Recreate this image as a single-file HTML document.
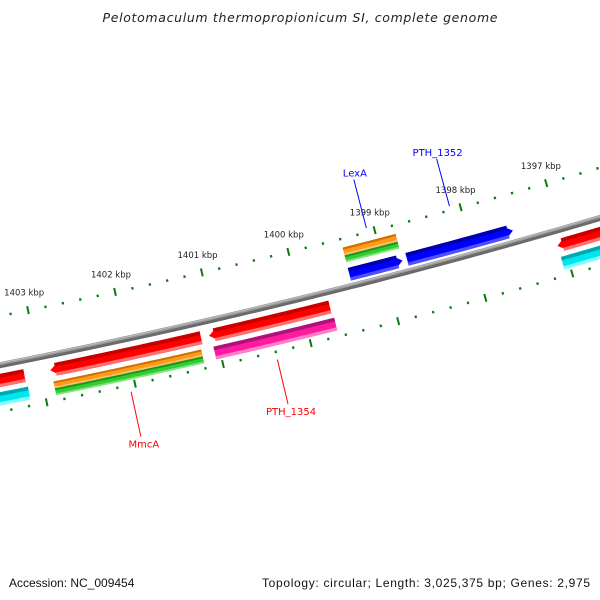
<!DOCTYPE html>
<html><head><meta charset="utf-8"><style>
html,body{margin:0;padding:0;background:#fff}
svg{display:block}
text{font-family:"DejaVu Sans","Liberation Sans",sans-serif}
</style></head><body>
<svg id="map" width="600" height="600" viewBox="0 0 600 600" xmlns="http://www.w3.org/2000/svg">
<rect width="600" height="600" fill="#fff"/>
<text x="300" y="22" text-anchor="middle" font-size="12.5" font-style="italic" fill="#222" textLength="395">Pelotomaculum thermopropionicum SI, complete genome</text>
<text x="9" y="587" font-size="12" fill="#111" style="font-family:'Liberation Sans',sans-serif">Accession: NC_009454</text>
<text x="590" y="587" font-size="12" fill="#111" text-anchor="end" style="font-family:'Liberation Sans',sans-serif" textLength="328">Topology: circular; Length: 3,025,375 bp; Genes: 2,975</text>
<g id="ticks"></g>
<g id="backbone"></g>
<g id="features"></g>
<g id="labels"></g>
</svg>
<script>
// data
const majorTickKbp = [1397, 1398, 1399, 1400, 1401, 1402, 1403];
const minorTickStepBp = 200;
const featNames = ['red-left','cyan-left','red-mmca','orange-mmca','green-mmca','red-pth1354','magenta-pth1354','orange-lexa','green-lexa','blue-lexa','blue-pth1352','red-right','cyan-right'];
const featStart = [1403700,1403700,1402890,1402880,1402880,1401080,1401060,1399397,1399397,1399397,1398731,1397073,1397070];
const featEnd   = [1403183,1403170,1401172,1401200,1401200,1399697,1399680,1398783,1398783,1398783,1397504,1396300,1396300];
const featArrow = [0,0,1,0,0,1,0,0,0,-1,-1,1,0];
const featSlot  = ['f1','f2','f1','f2a','f2b','f1','f2','r2a','r2b','r1','r1','f1','f2'];
const featColor = ['red','cyan','red','orange','green','red','magenta','orange','green','blue','blue','red','cyan'];
const labelNames = ['LexA','PTH_1352','MmcA','PTH_1354'];
const labelBp = [1399084, 1398117, 1402060, 1400402];
const labelColors = ['#0000ff','#0000ff','#ff0000','#ff0000'];

// geometry
const CX=-1295, CY=-6210, R0=6701;
const A0=78.53, DEG_PER_BP=0.000766;
const slots={f1:[6710,6723],f2:[6728,6741],f2a:[6728,6735],f2b:[6735,6742],r1:[6683,6696],r2a:[6662,6670],r2b:[6670,6677]};
const palette={red:['#c80000','#ff0000','#ff7070'],cyan:['#00a8b0','#00e5ee','#80ffff'],orange:['#d07000','#ff9a1a','#ffc070'],green:['#1a9a1a','#33cc33','#80e880'],magenta:['#b0107a','#ff1aa0','#ff80c8'],blue:['#0000b0','#0000ff','#5050ff']};
function ang(bp){return (A0+(bp-1403000)*DEG_PER_BP)*Math.PI/180;}
function pt(bp,r){const a=ang(bp);return [CX+r*Math.cos(a),CY+r*Math.sin(a)];}
function arcPts(b1,b2,r,n){const o=[];for(let i=0;i<=n;i++){o.push(pt(b1+(b2-b1)*i/n,r));}return o;}
function P(a){return a.map(p=>p[0].toFixed(2)+','+p[1].toFixed(2)).join(' ');}
const NS='http://www.w3.org/2000/svg';

// ticks
const tg=document.getElementById('ticks');
function tick(bp,r1,r2,w,name){
  const a=pt(bp,r1),b=pt(bp,r2);const l=document.createElementNS(NS,'line');
  l.setAttribute('x1',a[0]);l.setAttribute('y1',a[1]);l.setAttribute('x2',b[0]);l.setAttribute('y2',b[1]);
  l.setAttribute('stroke','#0a7a0a');l.setAttribute('stroke-width',w);
  
  
  tg.appendChild(l);
}
const lo=(majorTickKbp[0]-1)*1000, hi=(majorTickKbp[majorTickKbp.length-1]+1)*1000;
for(let bp=lo;bp<=hi;bp+=minorTickStepBp){
  if(bp%1000===0) continue;
  tick(bp,6652,6654.5,2.2,'minor-tick');
  tick(bp,6746,6748.5,2.2,'minor-tick');
}
majorTickKbp.forEach(k=>{
  const bp=k*1000;
  tick(bp,6649,6657,2,'major-tick');
  tick(bp,6743,6751,2,'major-tick');
  const p=pt(bp,6634);
  const t=document.createElementNS(NS,'text');
  t.setAttribute('x',p[0]);t.setAttribute('y',p[1]+4);t.setAttribute('text-anchor','middle');
  t.setAttribute('font-size','8.5');t.setAttribute('fill','#222');
  
  
  t.textContent=k+' kbp';tg.appendChild(t);
});

// backbone
const bb=document.getElementById('backbone');
[[6701.5,6,'#6a6a6a'],[6700,3,'#9a9a9a'],[6699.5,1,'#bdbdbd']].forEach(s=>{
  const pl=document.createElementNS(NS,'polyline');
  pl.setAttribute('points',P(arcPts(1404500,1395500,s[0],80)));
  pl.setAttribute('fill','none');pl.setAttribute('stroke',s[2]);pl.setAttribute('stroke-width',s[1]);
  
  
  bb.appendChild(pl);
});

// features
const fg=document.getElementById('features');
function shape(s,e,ri,ro,arrow){
  const head=95, n=24;
  let pts;
  const rm=(ri+ro)/2;
  if(arrow===1){
    const hb=s-head;
    pts=[pt(s,rm)].concat(arcPts(hb,e,ri,n)).concat(arcPts(e,hb,ro,n));
  }else if(arrow===-1){
    const hb=e+head;
    pts=arcPts(s,hb,ri,n).concat([pt(e,rm)]).concat(arcPts(hb,s,ro,n));
  }else{
    pts=arcPts(s,e,ri,n).concat(arcPts(e,s,ro,n));
  }
  return pts;
}
featNames.forEach((nm,i)=>{
  const g=document.createElementNS(NS,'g');
  
  
  const [ri,ro]=slots[featSlot[i]];const c=palette[featColor[i]];
  const h=ro-ri;
  const bands=[[ri,ro,c[1]],[ri,ri+h*0.28,c[0]],[ro-h*0.25,ro,c[2]]];
  bands.forEach((bd,j)=>{
    const pg=document.createElementNS(NS,'polygon');
    let pts;
    if(j===0) pts=shape(featStart[i],featEnd[i],bd[0],bd[1],featArrow[i]);
    else{
      let s=featStart[i],e=featEnd[i];
      if(featArrow[i]===1) s-=95*0.6;
      if(featArrow[i]===-1) e+=95*0.6;
      pts=shape(s,e,bd[0],bd[1],0);
    }
    pg.setAttribute('points',P(pts));pg.setAttribute('fill',bd[2]);
    
    
    g.appendChild(pg);
  });
  fg.appendChild(g);
});

// labels
const lg=document.getElementById('labels');
const labelGeom=[[6649,6599,-1],[6649,6600,-1],[6754,6800,1],[6755,6801,1]];
labelNames.forEach((nm,i)=>{
  const [r1,r2,dir]=labelGeom[i];
  const a=pt(labelBp[i],r1),b=pt(labelBp[i],r2);
  const l=document.createElementNS(NS,'line');
  l.setAttribute('x1',a[0]);l.setAttribute('y1',a[1]);l.setAttribute('x2',b[0]);l.setAttribute('y2',b[1]);
  l.setAttribute('stroke',labelColors[i]);l.setAttribute('stroke-width',1);
  
  
  lg.appendChild(l);
  const t=document.createElementNS(NS,'text');
  t.setAttribute('x',dir<0?b[0]+1:b[0]+3);t.setAttribute('y',dir<0?b[1]-3:b[1]+11);
  t.setAttribute('text-anchor','middle');t.setAttribute('font-size','10');t.setAttribute('fill',labelColors[i]);
  
  
  t.textContent=nm;lg.appendChild(t);
});
</script>
</body></html>
